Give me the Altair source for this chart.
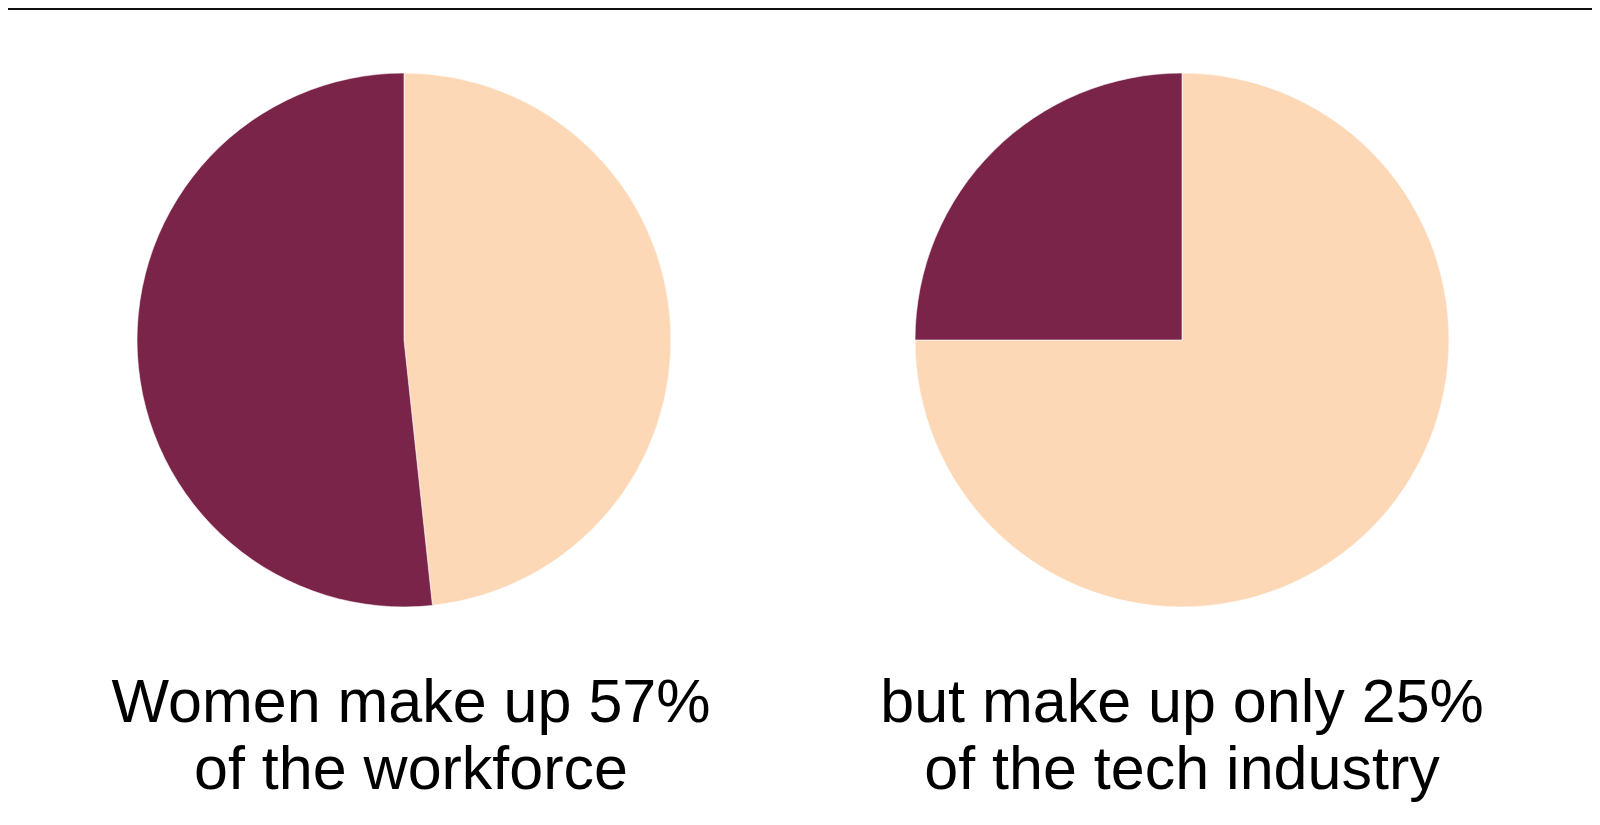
import altair as alt
import pandas as pd

# ---- data ----
panels = ["workforce", "tech"]
groups = ["Other", "Women"]
women_share = [51.7, 25.0]      # dark slice as drawn
other_share = [48.3, 75.0]      # light slice as drawn
caption_line1 = ["Women make up 57%", "but make up only 25%"]
caption_line2 = ["of the workforce", "of the tech industry"]

DARK = "#7B2449"
LIGHT = "#FDD8B6"

rows = []
for i, p in enumerate(panels):
    rows.append({"panel": p, "group": "Other", "value": other_share[i], "ord": 0})
    rows.append({"panel": p, "group": "Women", "value": women_share[i], "ord": 1})
pie_df = pd.DataFrame(rows)

cap_rows = []
for i, p in enumerate(panels):
    cap_rows.append({"panel": p, "line": 1, "text": caption_line1[i]})
    cap_rows.append({"panel": p, "line": 2, "text": caption_line2[i]})
cap_df = pd.DataFrame(cap_rows)

# layout (chart coordinates)
W, H = 1584, 809
centers_x = [396, 1174]
text_x = [403, 1174]
center_y = 332
R = 267
line_y = [714, 781]

layers = []
top_rule = alt.Chart(pie_df).mark_rule(color="#111111", strokeWidth=1.5).encode(
    x=alt.value(0), x2=alt.value(W), y=alt.value(1)
)
layers.append(top_rule)

for i, p in enumerate(panels):
    arc = alt.Chart(pie_df).transform_filter(
        alt.datum.panel == p
    ).mark_arc(x=centers_x[i], y=center_y, radius=R, stroke="white", strokeWidth=0.6).encode(
        theta=alt.Theta("value:Q", stack=True),
        order=alt.Order("ord:Q"),
        color=alt.Color("group:N", scale=alt.Scale(domain=groups, range=[LIGHT, DARK]), legend=None),
    )
    layers.append(arc)
    for j, ly in enumerate(line_y):
        t = alt.Chart(cap_df).transform_filter(
            (alt.datum.panel == p) & (alt.datum.line == j + 1)
        ).mark_text(
            x=text_x[i], y=ly, align="center", baseline="alphabetic",
            font="Liberation Sans", fontSize=61, fontWeight=400, color="#000000"
        ).encode(text="text:N")
        layers.append(t)

chart = alt.layer(*layers).properties(
    width=W, height=H, autosize=alt.AutoSizeParams(type="none"), padding=0
).configure_view(stroke=None)

chart.save("out.html", embed_options={"renderer": "svg", "actions": False})
